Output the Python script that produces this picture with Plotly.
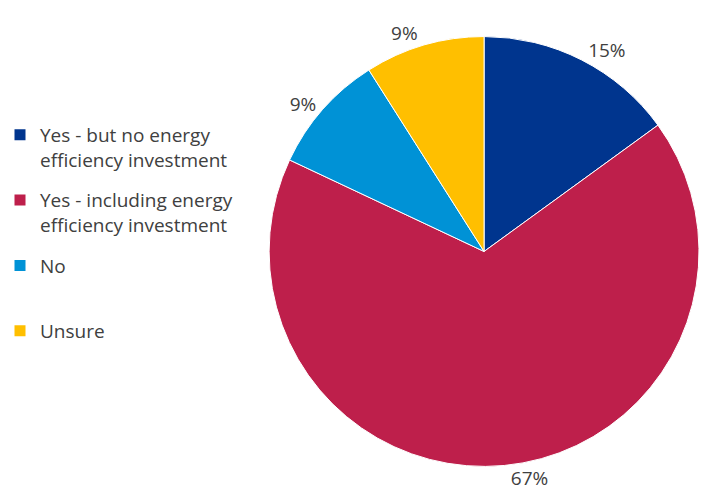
import plotly.graph_objects as go

labels = ["Yes - but no energy<br>efficiency investment",
          "Yes - including energy<br>efficiency investment",
          "No<br> ",
          "Unsure"]
values = [15, 67, 9, 9]
colors = ["#00358E", "#BE1F4B", "#0092D6", "#FFBF00"]

fig = go.Figure()
fig.add_trace(go.Pie(
    labels=labels,
    values=values,
    sort=False,
    direction="clockwise",
    rotation=0,
    marker=dict(colors=colors, line=dict(color="white", width=1)),
    texttemplate="%{percent:.0%}",
    textposition="outside",
    textfont=dict(family="Open Sans", size=19, color="#404040"),
    domain=dict(x=[0.385, 1.0], y=[0.058, 0.93]),
    hoverinfo="percent",
    showlegend=False,
))

# legend entries (one group each, so the gap between entries can be set)
for lab, col in zip(labels, colors):
    fig.add_trace(go.Scatter(
        x=[None], y=[None], mode="markers", name=lab,
        marker=dict(symbol="square", size=11, color=col),
        legendgroup=lab, showlegend=True, hoverinfo="skip",
    ))

fig.update_layout(
    width=704, height=500,
    margin=dict(l=0, r=0, t=0, b=0),
    paper_bgcolor="white",
    plot_bgcolor="white",
    xaxis=dict(visible=False),
    yaxis=dict(visible=False),
    font=dict(family="Open Sans", size=19, color="#404040"),
    legend=dict(x=0, y=0.767, xanchor="left", yanchor="top",
                valign="top", tracegroupgap=13,
                font=dict(family="Open Sans", size=19, color="#404040"),
                itemwidth=30),
)

fig.write_html("out.html")
